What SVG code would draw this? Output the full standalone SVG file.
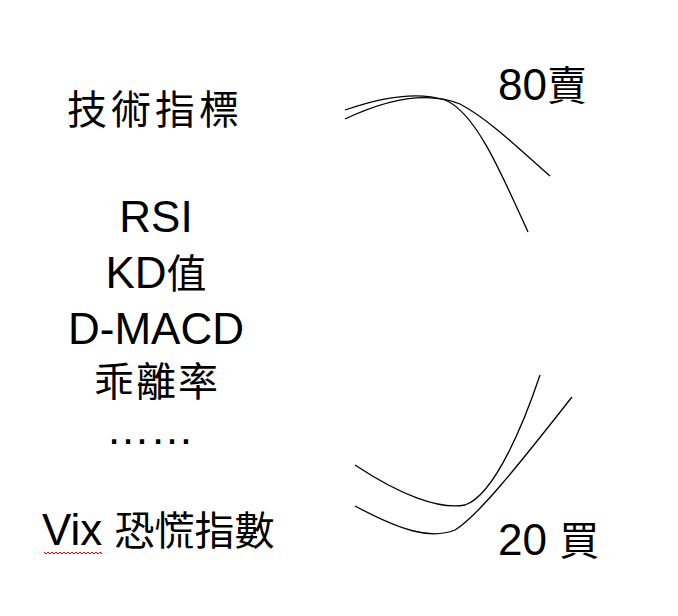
<svg xmlns="http://www.w3.org/2000/svg" width="678" height="616" viewBox="0 0 678 616">
<style>
.t{font-family:"Liberation Sans",Arial,sans-serif;font-size:44px;fill:#000}
.c{font-family:"Noto Sans CJK TC","Liberation Sans",sans-serif;font-size:40px;fill:#000}
.k{fill:none;stroke:#000;stroke-width:1.3}
</style>
<rect width="678" height="616" fill="#fff"/>
<g id="title"><text class="c" x="67" y="124" letter-spacing="4">技術指標</text></g>
<g id="list">
<text class="t" x="156" y="232" text-anchor="middle">RSI</text>
<text class="t" x="156" y="288" text-anchor="middle">KD<tspan class="c">值</tspan></text>
<text class="t" x="156" y="344" text-anchor="middle">D-MACD</text>
<text class="c" x="157" y="396" text-anchor="middle" letter-spacing="2">乖離率</text>
<text class="t" x="150" y="444" text-anchor="middle">……</text>
</g>
<g id="vix"><text class="t" x="42" y="545">Vix <tspan class="c" font-size="38">恐慌指數</tspan></text>
<path d="M44 552 l2 2 l2 -2 l2 2 l2 -2 l2 2 l2 -2 l2 2 l2 -2 l2 2 l2 -2 l2 2 l2 -2 l2 2 l2 -2 l2 2 l2 -2 l2 2 l2 -2 l2 2 l2 -2 l2 2 l2 -2 l2 2 l2 -2 l2 2 l2 -2 l2 2 l2 -2 l2 2" fill="none" stroke="#e00" stroke-width="1"/></g>
<g id="sell"><text class="t" x="498" y="100">80<tspan class="c">賣</tspan></text></g>
<g id="buy"><text class="t" x="498" y="555">20 <tspan class="c">買</tspan></text></g>
<g id="connectors">
<path class="k" d="M345 110 C385 96 420 92 445 100 C475 112 500 170 528 232"/>
<path class="k" d="M345 119 C385 100 425 90 460 104 C490 120 520 150 550 176"/>
<path class="k" d="M355 465 C400 495 440 510 465 505 C495 495 525 420 540 375"/>
<path class="k" d="M355 506 C400 530 430 540 455 530 C480 515 530 450 572 397"/>
</g>
</svg>
